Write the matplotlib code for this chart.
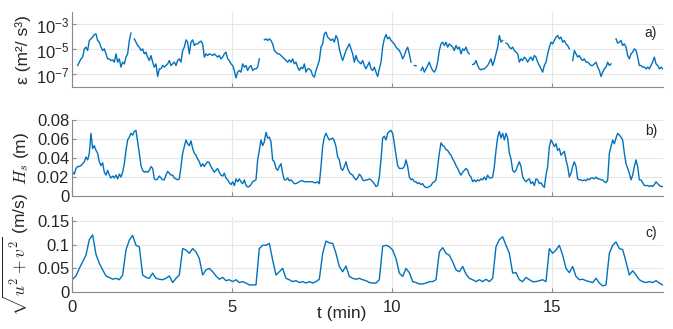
import numpy as np
import matplotlib
matplotlib.use("Agg")
import matplotlib.pyplot as plt

plt.rcParams['font.family'] = ['Liberation Sans', 'DejaVu Sans']
plt.rcParams['mathtext.fontset'] = 'cm'

# dissipation rate, log10(eps), nan = gap in record
log_eps = [
    np.nan, np.nan, np.nan, -6.28,
    -6.01, -5.75, -5.61, -4.95, -4.81, -5.08, -4.28, -4.15, -4.01, -3.80,
    -3.75, -4.28, -4.41, -4.81, -5.08, -4.95, -5.35, -5.75, -5.75, -5.88,
    -5.83, -6.01, -5.35, -6.01, -5.75, -6.41, -6.01, -6.15, -5.61, -5.35,
    -4.28, -3.69, np.nan, -4.15, -4.41, -4.68, -4.81, -5.08, -4.95, -5.35,
    -5.21, -5.61, -5.88, -5.48, -6.01, -6.41, -6.15, -7.16, -6.55, -6.55,
    -6.28, -6.41, -6.28, -6.15, -5.88, -6.28, -6.15, -6.01, -6.28, -5.88,
    -5.75, -6.01, -5.08, -4.81, -4.23, -4.41, -5.35, -4.41, -4.23, -4.68,
    -4.55, -4.55, -4.41, -4.33, -4.55, -5.61, -5.35, -5.48, -5.35, -5.40,
    -5.48, -5.35, -5.48, -5.61, -5.48, -5.75, -5.61, -5.35, -5.21, -5.75,
    -5.88, -6.15, -6.28, -6.68, -7.27, -6.81, -6.68, -6.81, -6.15, -6.41,
    -6.28, -6.68, -6.41, -6.28, -6.68, -6.55, -6.55, -6.41, -5.75, np.nan,
    np.nan, -4.23, -4.15, -4.28, -4.15, -4.28, -4.55, -5.08, -5.21, -5.35,
    -5.35, -5.48, -5.61, -5.75, -5.88, -6.01, -5.83, -6.01, -5.75, -6.15,
    -6.01, -6.41, -6.68, -6.41, -6.55, -6.15, -6.81, -6.55, -6.55, -6.68,
    -7.08, -7.21, -6.68, -6.28, -5.88, -4.81, -4.55, -3.75, -3.61, -4.01,
    -4.15, -4.28, -4.15, -4.41, -3.88, -4.15, -4.95, -5.48, -5.88, -5.48,
    -5.08, -4.81, -4.55, -4.95, -5.35, -6.01, -5.48, -5.88, -6.01, -6.15,
    -5.88, -6.28, -6.55, -6.28, -6.01, -6.55, -6.68, -6.41, -6.81, -7.16,
    -6.55, -6.01, -4.81, -4.15, -3.80, -4.15, -4.01, -4.28, -4.41, -4.55,
    -4.81, -4.95, -5.08, -5.35, -5.75, -5.48, -5.08, -4.81, -5.35, -6.01,
    np.nan, -6.28, -6.30, np.nan, np.nan, -6.68, -6.41, -6.81, -6.55, -6.28,
    -6.01, -6.41, -6.68, -6.81, -6.55, -6.01, -5.08, -4.55, -4.41, -4.68,
    -4.41, -4.81, -4.55, -4.68, -4.81, -5.08, -4.68, -4.95, -4.81, -5.35,
    -4.95, -5.08, -4.81, -5.21, -5.35, np.nan, -6.20, -6.15, -5.88, -6.28,
    -6.55, -6.63, -6.55, -6.55, -6.41, -6.28, -6.01, -5.75, -6.28, -5.88,
    -5.35, -4.81, -3.88, -4.41, -4.28, np.nan, -4.49, -4.55, -4.81, -4.95,
    -4.81, -5.08, -5.21, -5.35, -6.01, -5.75, -5.88, -5.61, -5.75, -6.01,
    -5.75, -5.61, -5.88, -5.48, -5.61, -6.01, -6.28, -6.55, -6.81, -6.28,
    -6.01, -5.35, -4.81, -4.41, -4.55, -4.28, -4.01, -3.88, -4.15, -4.01,
    -4.41, -4.28, -4.55, -4.68, -4.95, np.nan, -5.88, -5.08, -5.35, -5.61,
    -5.48, -5.75, -5.88, -5.75, -6.01, -6.01, -6.15, -6.28, -6.28, -6.15,
    -6.01, -6.41, -6.68, -7.16, -6.81, -6.55, -6.41, -6.01, -6.28, -6.15,
    np.nan, np.nan, -4.15, -4.49, -4.41, -4.28, -4.68, -4.55, -4.81, -5.48,
    -5.75, -5.35, -5.21, -4.95, -5.08, -5.61, -6.28, -6.28, -6.41, -6.41,
    -6.55, -6.41, -6.55, -6.28, -6.01, -5.61, -6.15, -6.28, -6.55, -6.41,
    -6.55,
]

# significant wave height (m)
hs = [
    0.025, 0.023, 0.029, 0.031, 0.031, 0.032, 0.034, 0.036, 0.041, 0.038,
    0.045, 0.066, 0.050, 0.053, 0.048, 0.045, 0.036, 0.032, 0.035, 0.025,
    0.022, 0.027, 0.022, 0.019, 0.021, 0.019, 0.022, 0.018, 0.023, 0.020,
    0.025, 0.034, 0.048, 0.059, 0.062, 0.066, 0.064, 0.068, 0.069, 0.057,
    0.045, 0.032, 0.027, 0.025, 0.026, 0.025, 0.027, 0.031, 0.029, 0.018,
    0.017, 0.018, 0.021, 0.019, 0.017, 0.017, 0.022, 0.026, 0.024, 0.022,
    0.022, 0.019, 0.018, 0.017, 0.018, 0.031, 0.045, 0.052, 0.059, 0.055,
    0.053, 0.058, 0.050, 0.045, 0.043, 0.039, 0.036, 0.031, 0.034, 0.031,
    0.034, 0.036, 0.035, 0.031, 0.028, 0.025, 0.027, 0.029, 0.025, 0.022,
    0.021, 0.024, 0.019, 0.017, 0.014, 0.012, 0.015, 0.011, 0.018, 0.015,
    0.018, 0.015, 0.013, 0.017, 0.011, 0.0095, 0.010, 0.012, 0.015, 0.016,
    0.017, 0.038, 0.048, 0.059, 0.053, 0.057, 0.067, 0.061, 0.062, 0.057,
    0.038, 0.036, 0.029, 0.027, 0.031, 0.034, 0.024, 0.017, 0.017, 0.019,
    0.016, 0.017, 0.015, 0.013, 0.013, 0.014, 0.015, 0.016, 0.016, 0.015,
    0.015, 0.015, 0.015, 0.015, 0.015, 0.014, 0.014, 0.015, 0.013, 0.031,
    0.052, 0.062, 0.066, 0.062,
    0.059, 0.060, 0.061, 0.058, 0.052, 0.041, 0.038, 0.029, 0.027, 0.031,
    0.036, 0.029, 0.025, 0.023, 0.022, 0.019, 0.017, 0.019, 0.023, 0.021,
    0.017, 0.016, 0.017, 0.017, 0.018, 0.017, 0.015, 0.013, 0.010, 0.011,
    0.020, 0.038, 0.061, 0.063, 0.059, 0.066, 0.068, 0.069, 0.066, 0.055,
    0.043, 0.032, 0.029, 0.029, 0.029, 0.031, 0.038, 0.031, 0.020, 0.017,
    0.018, 0.015, 0.015, 0.013, 0.014, 0.012, 0.013, 0.010, 0.009, 0.009,
    0.010, 0.011, 0.014, 0.015, 0.017, 0.031, 0.045, 0.056, 0.053, 0.052,
    0.049, 0.048, 0.045, 0.043, 0.039, 0.036, 0.032, 0.029, 0.025, 0.022,
    0.025, 0.027, 0.029, 0.027, 0.022, 0.020, 0.015, 0.017, 0.015, 0.017,
    0.016, 0.018, 0.017, 0.020, 0.017, 0.022, 0.019, 0.019, 0.020, 0.031,
    0.048, 0.062, 0.068, 0.061, 0.066, 0.059, 0.066, 0.061, 0.045, 0.039,
    0.027, 0.025, 0.027, 0.032, 0.036, 0.031, 0.020, 0.017, 0.015, 0.017,
    0.018, 0.013, 0.015, 0.011, 0.018, 0.017, 0.013, 0.014, 0.011, 0.009,
    0.022, 0.031, 0.052, 0.059, 0.056, 0.052, 0.055, 0.048, 0.050, 0.043,
    0.045, 0.047, 0.038, 0.031, 0.020, 0.024, 0.031, 0.036, 0.031, 0.018,
    0.017, 0.017, 0.016, 0.017, 0.016, 0.018, 0.017, 0.019, 0.019, 0.018,
    0.020, 0.018, 0.018, 0.017, 0.017, 0.015, 0.014, 0.017, 0.045, 0.052,
    0.059, 0.055, 0.061, 0.066, 0.064, 0.062, 0.059, 0.045, 0.034, 0.029,
    0.024, 0.017, 0.022, 0.031, 0.038, 0.031, 0.017, 0.017, 0.014, 0.011,
    0.011, 0.011, 0.010, 0.011, 0.010, 0.012, 0.015, 0.013, 0.011, 0.010,
    0.010,
]

# horizontal velocity magnitude (m/s)
speed = [
    0.027, 0.034, 0.050, 0.064, 0.078, 0.111, 0.121, 0.080, 0.061, 0.047,
    0.034, 0.031, 0.027, 0.029, 0.026, 0.036, 0.089, 0.110, 0.120, 0.099,
    0.096, 0.036, 0.031, 0.029, 0.040, 0.029, 0.027, 0.026, 0.029, 0.034,
    0.020, 0.029, 0.036, 0.092, 0.089, 0.082, 0.092, 0.085, 0.071, 0.036,
    0.047, 0.050, 0.043, 0.034, 0.027, 0.031, 0.024, 0.026, 0.022, 0.026,
    0.020, 0.022, 0.019, 0.015, 0.015, 0.015, 0.092, 0.099, 0.099, 0.103,
    0.068, 0.036, 0.043, 0.050, 0.029, 0.026, 0.022, 0.024, 0.020, 0.022,
    0.019, 0.022, 0.019, 0.022, 0.027, 0.082, 0.108, 0.104,
    0.103, 0.082, 0.054, 0.043, 0.055, 0.033, 0.029, 0.027, 0.029, 0.026,
    0.024, 0.020, 0.019, 0.019, 0.026, 0.097, 0.099, 0.096, 0.089, 0.071,
    0.040, 0.033, 0.050, 0.041, 0.022, 0.020, 0.017, 0.017, 0.019, 0.022,
    0.022, 0.026, 0.085, 0.094, 0.082, 0.078, 0.064, 0.047, 0.043, 0.054,
    0.038, 0.029, 0.026, 0.022, 0.026, 0.022, 0.027, 0.022, 0.029, 0.096,
    0.111, 0.117, 0.099, 0.082, 0.040, 0.041, 0.026, 0.022, 0.031, 0.026,
    0.022, 0.022, 0.024, 0.026, 0.022, 0.092, 0.082, 0.089, 0.099, 0.078,
    0.050, 0.041, 0.054, 0.033, 0.026, 0.027, 0.024, 0.022, 0.020, 0.029,
    0.019, 0.013, 0.015, 0.082, 0.099, 0.106, 0.092, 0.090, 0.064, 0.036,
    0.045, 0.036, 0.026, 0.022, 0.020, 0.022, 0.020, 0.024, 0.019, 0.015,
]

t_start, t_end = 0.02, 18.47  # minutes, first and last sample
x_ticks = [0, 5, 10, 15]
x_ticklabels = ['0', '5', '10', '15']
hs_ticks = [0, 0.02, 0.04, 0.06, 0.08]
hs_ticklabels = ['0', '0.02', '0.04', '0.06', '0.08']
sp_ticks = [0, 0.05, 0.1, 0.15]
sp_ticklabels = ['0', '0.05', '0.1', '0.15']
eps_ticks = [1e-7, 1e-5, 1e-3]

t_eps = np.linspace(t_start, t_end, len(log_eps))
t_hs = np.linspace(t_start, t_end, len(hs))
t_sp = np.linspace(t_start, t_end, len(speed))

line_col = '#0072BD'
txt_col = '#262626'
W, H = 673, 329
fig = plt.figure(figsize=(W / 100, H / 100), dpi=100)

def box(top, bottom):
    return [72 / W, 1 - bottom / H, (663 - 72) / W, (bottom - top) / H]

ax_a = fig.add_axes(box(12, 87))
ax_b = fig.add_axes(box(120, 196))
ax_c = fig.add_axes(box(216.5, 292))

ax_a.plot(t_eps, 10 ** np.array(log_eps), color=line_col, lw=1.0)
ax_a.set_yscale('log')
ax_a.set_ylim(1e-8, 1e-2)
ax_a.set_yticks(eps_ticks)
ax_a.minorticks_off()

ax_b.plot(t_hs, hs, color=line_col, lw=1.0)
ax_b.set_ylim(0, 0.08)
ax_b.set_yticks(hs_ticks, hs_ticklabels)

ax_c.plot(t_sp, speed, color=line_col, lw=1.0)
ax_c.set_ylim(0, 0.16)
ax_c.set_yticks(sp_ticks, sp_ticklabels)

for ax in (ax_a, ax_b, ax_c):
    ax.set_xlim(0, 18.48)
    ax.set_xticks(x_ticks, x_ticklabels)
    ax.grid(True, color='#e6e6e6', lw=0.8)
    ax.set_axisbelow(True)
    for s in ('top', 'right'):
        ax.spines[s].set_visible(False)
    for s in ('left', 'bottom'):
        ax.spines[s].set_color('#8a8a8a')
        ax.spines[s].set_linewidth(0.8)
    ax.tick_params(direction='in', length=3, color='#8a8a8a',
                   labelsize=12, labelcolor=txt_col)
    ax.tick_params(axis='y', pad=2)
    ax.tick_params(axis='x', pad=6)
    ax.yaxis.set_label_coords(-0.07, 0.5)

ax_a.tick_params(labelbottom=False)
ax_b.tick_params(labelbottom=False)

ax_a.set_ylabel('ε (m²/ s³)', fontsize=12.5, color=txt_col)
ax_b.set_ylabel('$H_s$ (m)', fontsize=12.5, color=txt_col)
ax_c.set_ylabel(r'$\sqrt{u^2+v^2}$ (m/s)', fontsize=12.5, color=txt_col)
ax_c.set_xlabel('t (min)', fontsize=12.5, color=txt_col)
ax_c.xaxis.set_label_coords(0.457, -0.18)

ax_a.text(0.99, 0.72, 'a)', transform=ax_a.transAxes, ha='right', va='center',
          fontsize=10, color=txt_col)
ax_b.text(0.99, 0.855, 'b)', transform=ax_b.transAxes, ha='right', va='center',
          fontsize=10, color=txt_col)
ax_c.text(0.99, 0.78, 'c)', transform=ax_c.transAxes, ha='right', va='center',
          fontsize=10, color=txt_col)

fig.savefig('out.png', dpi=100)
